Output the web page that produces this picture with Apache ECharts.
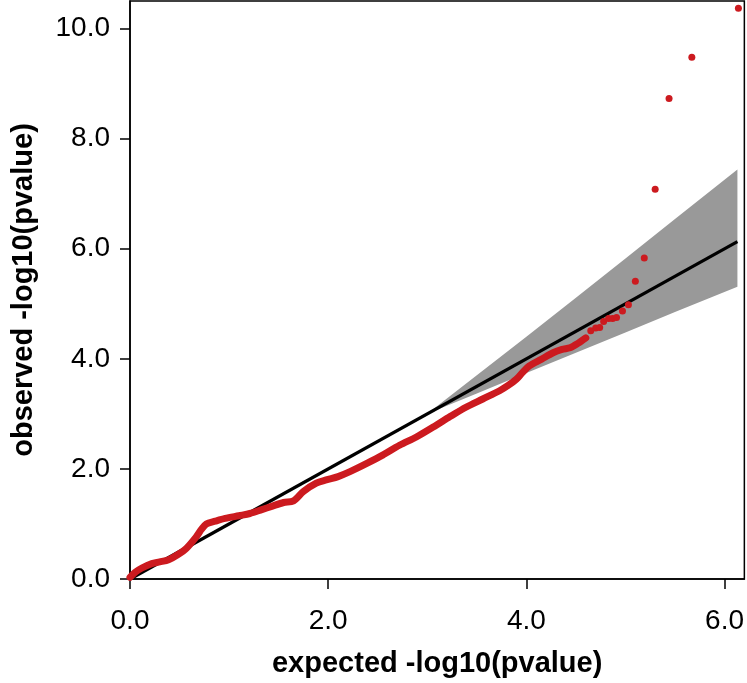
<!DOCTYPE html>
<html>
<head>
<meta charset="utf-8">
<script src="https://cdn.jsdelivr.net/npm/echarts@6/dist/echarts.min.js"></script>
<style>html,body{margin:0;padding:0;background:#fff;}#c{width:747px;height:683px;}</style>
</head>
<body>
<div id="c"></div>
<script>
// ---- data ----
const xTicks = [0, 2, 4, 6];
const yTicks = [0, 2, 4, 6, 8, 10];

// dense part of the observed quantiles (expected, observed)
const denseExpected = [0.00,0.05,0.12,0.22,0.30,0.39,0.48,0.57,0.67,0.72,0.77,0.86,0.96,1.10,1.21,1.33,1.43,1.55,1.65,1.75,1.88,1.98,2.10,2.22,2.39,2.55,2.72,2.89,3.06,3.23,3.39,3.56,3.73,3.82,3.90,3.96,4.03,4.15,4.27,4.36,4.44,4.52,4.60];
const denseObserved = [0.03,0.12,0.20,0.28,0.31,0.35,0.44,0.56,0.77,0.90,1.00,1.05,1.10,1.15,1.19,1.26,1.32,1.39,1.42,1.59,1.74,1.80,1.86,1.95,2.10,2.25,2.43,2.58,2.76,2.95,3.12,3.27,3.42,3.52,3.63,3.75,3.87,3.99,4.11,4.17,4.20,4.28,4.38];

// sparse tail points
const tailExpected = [4.65,4.70,4.74,4.78,4.83,4.87,4.91,4.97,5.03,5.10,5.19,5.30,5.44,5.67,6.14];
const tailObserved = [4.51,4.56,4.57,4.68,4.73,4.73,4.75,4.87,4.98,5.41,5.83,7.08,8.73,9.48,10.37];

// confidence band
const bandX     = [3.0, 3.5, 4.0, 4.5, 5.0, 5.5, 6.13];
const bandUpper = [3.0, 3.70, 4.40, 5.11, 5.82, 6.54, 7.44];
const bandLower = [3.0, 3.37, 3.74, 4.11, 4.48, 4.85, 5.31];

// reference line y = x
const refLineX = [0, 6.13];
const refLineY = [0, 6.13];

const FONT = "'Liberation Sans', Arial, sans-serif";
const RED = '#CC1A1F';

const chart = echarts.init(document.getElementById('c'), null, {renderer: 'canvas'});

const bandPts = [];
for (let i = 0; i < bandX.length; i++) bandPts.push([bandX[i], bandUpper[i]]);
for (let i = bandX.length - 1; i >= 0; i--) bandPts.push([bandX[i], bandLower[i]]);

const axisCommon = {
  type: 'value',
  nameLocation: 'middle',
  nameTextStyle: {fontSize: 29, fontWeight: 'bold', color: '#000', fontFamily: FONT},
  axisLine: {show: true, onZero: false, lineStyle: {color: '#000', width: 1.5}},
  axisTick: {show: true, length: 10, lineStyle: {color: '#000', width: 1.5}},
  axisLabel: {fontSize: 28, color: '#000', fontFamily: FONT, formatter: v => v.toFixed(1)},
  splitLine: {show: false}
};

const option = {
  animation: false,
  backgroundColor: '#fff',
  grid: {left: 130, right: 2, top: 1, bottom: 100, show: true, borderColor: '#000', borderWidth: 1.5, backgroundColor: 'transparent'},
  xAxis: Object.assign({}, axisCommon, {
    min: 0, max: 6.2,
    name: 'expected -log10(pvalue)', nameGap: 70,
    axisTick: Object.assign({}, axisCommon.axisTick, {customValues: xTicks}),
    axisLabel: Object.assign({}, axisCommon.axisLabel, {customValues: xTicks, margin: 28})
  }),
  yAxis: Object.assign({}, axisCommon, {
    min: 0, max: 10.5,
    name: 'observed -log10(pvalue)', nameGap: 92,
    axisTick: Object.assign({}, axisCommon.axisTick, {customValues: yTicks}),
    axisLabel: Object.assign({}, axisCommon.axisLabel, {customValues: yTicks, margin: 20})
  }),
  series: [
    {
      type: 'custom',
      z: 1,
      data: [0],
      renderItem: function (params, api) {
        const pts = bandPts.map(p => api.coord(p));
        return {type: 'polygon', shape: {points: pts}, style: {fill: '#999999', stroke: null}};
      },
      silent: true
    },
    {
      type: 'line', z: 2,
      data: refLineX.map((x, i) => [x, refLineY[i]]),
      showSymbol: false, symbol: 'none',
      lineStyle: {color: '#000', width: 3.2},
      silent: true
    },
    {
      type: 'line', z: 3,
      data: denseExpected.map((x, i) => [x, denseObserved[i]]),
      smooth: 0.3, showSymbol: false, symbol: 'none',
      lineStyle: {color: RED, width: 7, cap: 'round', join: 'round'},
      silent: true
    },
    {
      type: 'scatter', z: 4,
      data: tailExpected.map((x, i) => [x, tailObserved[i]]),
      symbol: 'circle', symbolSize: 7,
      itemStyle: {color: RED, opacity: 1},
      silent: true
    }
  ]
};
chart.setOption(option);
</script>
</body>
</html>
